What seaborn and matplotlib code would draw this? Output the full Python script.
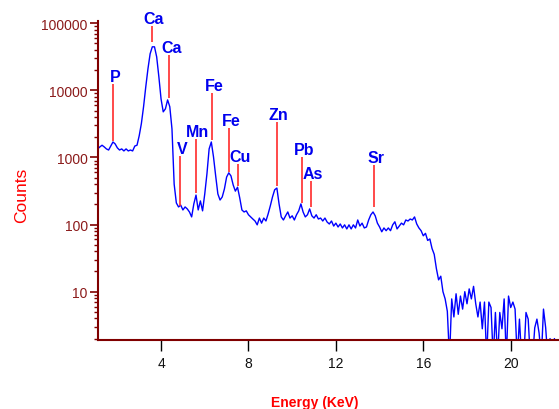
import numpy as np
import seaborn as sns
import matplotlib.pyplot as plt
from matplotlib import ticker

# === Spectrum data ===
# channel calibration: first channel energy and width in keV
e_start = 1.1
e_step = 0.1

counts = [
    1339, 1435, 1520, 1435, 1340, 1290, 1480, 1700, 1590, 1390,   # 1.1 - 2.0
    1290, 1340, 1250, 1340, 1250, 1290, 1250, 1480, 1520, 2100,   # 2.1 - 3.0
    3200, 5700, 11200, 20800, 35000, 44500, 44500, 31500, 15900, 7450,  # 3.1 - 4.0
    4780, 5300, 7200, 5700, 2660, 400, 210, 183, 195, 165,        # 4.1 - 5.0
    183, 171, 154, 130, 203, 275, 165, 225, 160, 286,             # 5.1 - 6.0
    570, 1340, 1700, 1020, 530, 286, 232, 258, 340, 510,          # 6.1 - 7.0
    590, 530, 390, 315, 360, 250, 165, 154, 160, 140,             # 7.1 - 8.0
    130, 121, 113, 99, 125, 105, 125, 113, 144, 190,              # 8.1 - 9.0
    258, 330, 350, 203, 130, 117, 135, 154, 125, 135,             # 9.1 - 10.0
    117, 140, 160, 203, 154, 130, 140, 171, 135, 125,             # 10.1 - 11.0
    140, 121, 125, 113, 125, 109, 102, 113, 95, 105,              # 11.1 - 12.0
    92, 102, 89, 99, 86, 99, 86, 99, 89, 117,                     # 12.1 - 13.0
    95, 105, 89, 92, 117, 140, 154, 135, 105, 92,                 # 13.1 - 14.0
    78, 89, 81, 89, 81, 99, 110, 86, 95, 105,                     # 14.1 - 15.0
    99, 117, 113, 121, 117, 130, 102, 89, 81, 68,                 # 15.1 - 16.0
    74, 58, 61, 44, 36, 22, 15, 17, 10, 7.8,                      # 16.1 - 17.0
    5.1, 1, 7.8, 4.2, 9.3, 4.6, 8.6, 5.5, 10, 6.6,                # 17.1 - 18.0
    11, 7.8, 12, 6.6, 4.2, 7.0, 2.8, 7.0, 1, 7.0,                 # 18.1 - 19.0
    5.8, 1, 4.9, 1, 4.9, 2.8, 7.8, 1, 8.6, 5.8,                   # 19.1 - 20.0
    7.0, 5.5, 1, 3.9, 1, 1, 4.9, 3.9, 1, 1,                       # 20.1 - 21.0
    2.9, 3.9, 2.4, 1, 5.5, 2.9, 1, 2, 1, 2, 1,                    # 21.1 - 22.1
]
energy = np.round(e_start + e_step * np.arange(len(counts)), 2)

# === Peak identification markers ===
peak_names = ["P", "Ca", "Ca", "V", "Mn", "Fe", "Fe", "Cu", "Zn", "Pb", "As", "Sr"]
peak_energy = [1.81, 3.57, 4.37, 4.87, 5.59, 6.32, 7.11, 7.52, 9.29, 10.47, 10.86, 13.76]
marker_top = [12460, 91160, 33700, 1053, 1887, 9150, 2752, 800, 3381, 1017, 446, 773]
marker_bottom = [1762, 52630, 7700, 189, 296, 1823, 608, 376, 376, 210, 183, 183]

y_ticks = [10, 100, 1000, 10000, 100000]
x_ticks = [4, 8, 12, 16, 20]

# === Plot ===
sns.set_theme(style="white")
plt.rcParams["font.family"] = ["Liberation Sans", "DejaVu Sans"]

fig = plt.figure(figsize=(5.59, 4.10), dpi=100)
ax = fig.add_axes([98 / 559, 69 / 410, 461 / 559, 319.3 / 410])

sns.lineplot(x=energy, y=counts, ax=ax, color="#0000ff", linewidth=1.0, estimator=None)

ax.vlines(peak_energy, marker_bottom, marker_top, colors="#ff2a2a", linewidth=1.2)
for name, e, top in zip(peak_names, peak_energy, marker_top):
    ax.annotate(name, xy=(e, top), xytext=(1.5, 2.2), textcoords="offset points",
                ha="center", va="baseline", color="#0000ee", fontweight="bold", fontsize=11.5)

ax.set_yscale("log")
ax.set_ylim(1.905, 109000)
ax.set_xlim(1.115, 22.21)

ax.yaxis.set_major_locator(ticker.FixedLocator(y_ticks))
ax.yaxis.set_major_formatter(ticker.FuncFormatter(lambda v, p: f"{v:.0f}"))
ax.yaxis.set_minor_locator(ticker.LogLocator(base=10, subs=np.arange(2, 10)))
ax.yaxis.set_minor_formatter(ticker.NullFormatter())
ax.set_xticks(x_ticks)

ax.tick_params(axis="y", which="major", direction="out", length=5.8, width=1.2,
               color="#800000", labelcolor="#8b1a1a", labelsize=10, pad=1.5, left=True)
ax.tick_params(axis="y", which="minor", direction="out", length=2.9, width=1.0,
               color="#800000", left=True)
ax.tick_params(axis="x", which="major", direction="out", length=8, width=1.0,
               color="black", labelcolor="#111111", labelsize=10, pad=3.5, bottom=True)

for side in ["top", "right"]:
    ax.spines[side].set_visible(False)
for side in ["left", "bottom"]:
    ax.spines[side].set_color("#800000")
    ax.spines[side].set_linewidth(1.5)

ax.set_xlabel("Energy (KeV)", color="red", fontweight="bold", fontsize=10)
ax.xaxis.set_label_coords(0.47, -0.172)
ax.set_ylabel("Counts", color="red", fontsize=12.5)
ax.yaxis.set_label_coords(-0.15, 0.457)
ax.grid(False)

fig.savefig("out.png", dpi=100)
